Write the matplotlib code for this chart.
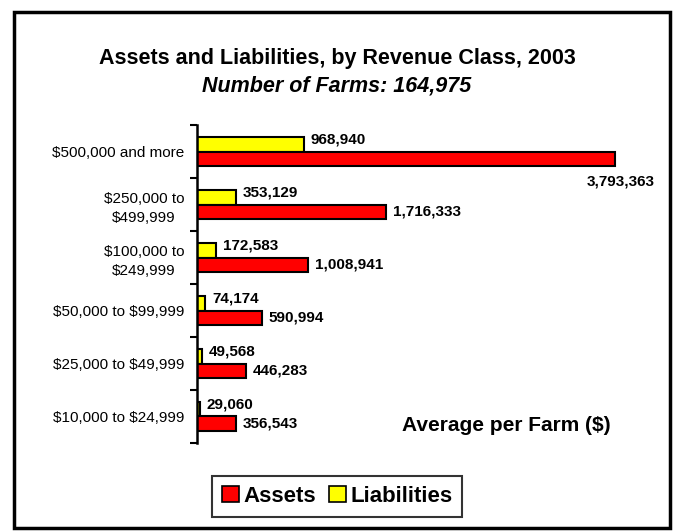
import matplotlib
matplotlib.use("Agg")
import matplotlib.pyplot as plt
from matplotlib.patches import Rectangle, Patch

plt.rcParams["font.family"] = ["Liberation Sans", "DejaVu Sans"]
plt.rcParams["text.parse_math"] = False  # labels are full of dollar signs

# Revenue classes, bottom to top as drawn
categories = [
    "$10,000 to $24,999",
    "$25,000 to $49,999",
    "$50,000 to $99,999",
    "$100,000 to\n$249,999",
    "$250,000 to\n$499,999",
    "$500,000 and more",
]
assets = [356543, 446283, 590994, 1008941, 1716333, 3793363]
liabilities = [29060, 49568, 74174, 172583, 353129, 968940]

XMAX = 4000000
BAR_H = 0.28

fig = plt.figure(figsize=(6.74, 5.32), dpi=100)
ax = fig.add_axes([0.292, 0.1673, 0.654, 0.5977])

ypos = list(range(len(categories)))
y_liab = [y + BAR_H / 2 for y in ypos]
y_asset = [y - BAR_H / 2 for y in ypos]

ax.barh(y_liab, liabilities, height=BAR_H, color="#FFFF00",
        edgecolor="black", linewidth=1.5)
ax.barh(y_asset, assets, height=BAR_H, color="#FF0000",
        edgecolor="black", linewidth=1.5)

# value labels
for y, v in zip(y_liab, liabilities):
    ax.annotate(f"{v:,}", xy=(v, y), xytext=(5, 3), textcoords="offset points",
                ha="left", va="center", fontsize=11, fontweight="bold")
for y, v in zip(y_asset, assets):
    if v > 0.9 * XMAX:
        # no room at the end, Excel drops it under the bar
        ax.annotate(f"{v:,}", xy=(v, y), xytext=(4, -16), textcoords="offset points",
                    ha="center", va="center", fontsize=11, fontweight="bold")
    else:
        ax.annotate(f"{v:,}", xy=(v, y), xytext=(5, 0), textcoords="offset points",
                    ha="left", va="center", fontsize=11, fontweight="bold")

ax.set_xlim(0, XMAX)
ax.set_ylim(-0.5, len(categories) - 0.5)

ax.set_yticks(ypos)
ax.set_yticklabels(categories, fontsize=11, multialignment="center", linespacing=1.45)
ax.tick_params(axis="y", which="major", length=0, pad=9)
ax.set_yticks([y - 0.5 for y in range(len(categories) + 1)], minor=True)
ax.tick_params(axis="y", which="minor", length=5, width=1.5, direction="out")
ax.set_xticks([])

for s in ["top", "right", "bottom"]:
    ax.spines[s].set_visible(False)
ax.spines["left"].set_linewidth(1.8)

fig.text(0.5, 0.89, "Assets and Liabilities, by Revenue Class, 2003",
         ha="center", va="center", fontsize=15.5, fontweight="bold")
fig.text(0.5, 0.838, "Number of Farms: 164,975",
         ha="center", va="center", fontsize=15.5, fontweight="bold", style="italic")
fig.text(0.751, 0.201, "Average per Farm ($)",
         ha="center", va="center", fontsize=15, fontweight="bold")

handles = [Patch(facecolor="#FF0000", edgecolor="black", linewidth=1.2, label="Assets"),
           Patch(facecolor="#FFFF00", edgecolor="black", linewidth=1.2, label="Liabilities")]
leg = fig.legend(handles=handles, loc="center", bbox_to_anchor=(0.5, 0.067), ncol=2,
                 frameon=True, fancybox=False, handlelength=0.75, handleheight=0.75,
                 handletextpad=0.2, columnspacing=0.6, borderpad=0.45,
                 prop={"size": 16, "weight": "bold"})
leg.get_frame().set_edgecolor("black")
leg.get_frame().set_linewidth(1.5)

# outer chart frame
fig.patches.append(Rectangle((0.0215, 0.007), 0.972, 0.970, transform=fig.transFigure,
                             fill=False, edgecolor="black", linewidth=2.5))

fig.savefig("out.png", dpi=100)
